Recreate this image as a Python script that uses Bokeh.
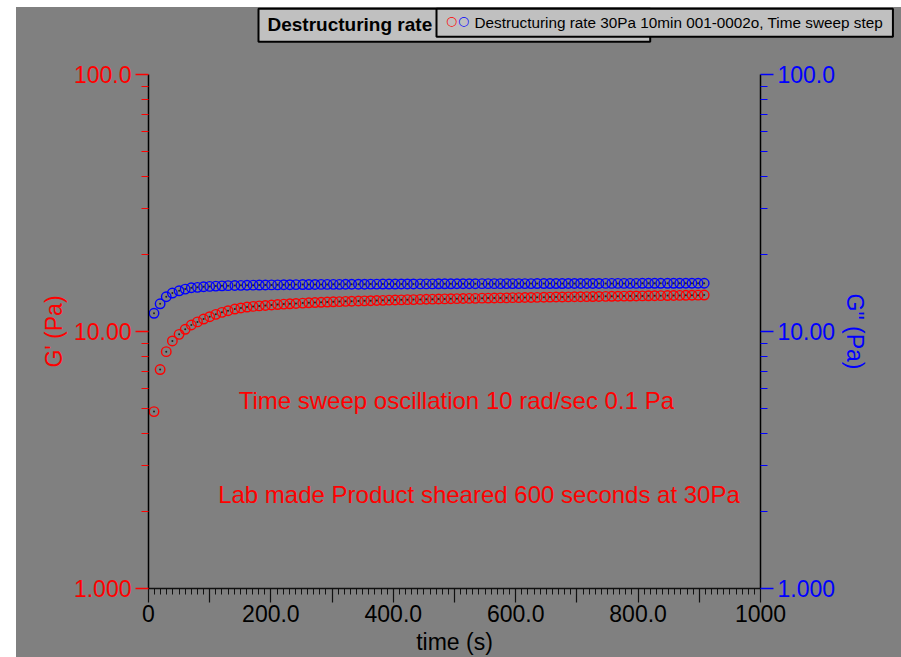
from bokeh.plotting import figure
from bokeh.models import LogAxis, Range1d, FixedTicker, Label
from bokeh.embed import file_html
from bokeh.resources import INLINE

# ---------------- data ----------------
time_s = [9, 19, 29, 39, 50, 60, 70, 80, 90, 100,
          110, 120, 130, 141, 151, 161, 171, 181, 191, 201,
          211, 221, 231, 241, 252, 262, 272, 282, 292, 302,
          312, 322, 332, 343, 353, 363, 373, 383, 393, 403,
          413, 423, 433, 444, 454, 464, 474, 484, 494, 504,
          514, 524, 534, 545, 555, 565, 575, 585, 595, 605,
          615, 625, 635, 646, 656, 666, 676, 686, 696, 706,
          716, 726, 736, 747, 757, 767, 777, 787, 797, 807,
          817, 827, 837, 848, 858, 868, 878, 888, 898, 908]

g_prime = [4.88, 7.11, 8.35, 9.19, 9.75, 10.2, 10.6, 10.9, 11.18, 11.42,
           11.66, 11.87, 12.05, 12.23, 12.35, 12.45, 12.52, 12.58, 12.63, 12.68,
           12.73, 12.78, 12.82, 12.86, 12.9, 12.93, 12.96, 12.99, 13.02, 13.05,
           13.07, 13.1, 13.12, 13.14, 13.16, 13.18, 13.2, 13.22, 13.24, 13.26,
           13.28, 13.3, 13.31, 13.33, 13.35, 13.36, 13.38, 13.39, 13.41, 13.42,
           13.44, 13.45, 13.46, 13.48, 13.49, 13.5, 13.51, 13.52, 13.54, 13.55,
           13.56, 13.57, 13.58, 13.6, 13.61, 13.62, 13.63, 13.64, 13.65, 13.66,
           13.67, 13.68, 13.69, 13.7, 13.71, 13.72, 13.73, 13.74, 13.75, 13.76,
           13.77, 13.78, 13.79, 13.8, 13.81, 13.82, 13.83, 13.84, 13.85, 13.86]

g_double = [11.77, 12.82, 13.65, 14.11, 14.4, 14.62, 14.8, 14.85, 14.93, 14.98,
            15.02, 15.05, 15.08, 15.1, 15.12, 15.14, 15.15, 15.16, 15.17, 15.18,
            15.19, 15.2, 15.21, 15.22, 15.23, 15.23, 15.24, 15.25, 15.25, 15.26,
            15.26, 15.27, 15.27, 15.28, 15.28, 15.29, 15.29, 15.3, 15.3, 15.3,
            15.31, 15.31, 15.31, 15.32, 15.32, 15.32, 15.33, 15.33, 15.33, 15.34,
            15.34, 15.34, 15.34, 15.35, 15.35, 15.35, 15.35, 15.36, 15.36, 15.36,
            15.36, 15.36, 15.37, 15.37, 15.37, 15.37, 15.37, 15.38, 15.38, 15.38,
            15.38, 15.38, 15.38, 15.39, 15.39, 15.39, 15.39, 15.39, 15.39, 15.4,
            15.4, 15.4, 15.4, 15.4, 15.4, 15.4, 15.41, 15.41, 15.41, 15.41]

x_ticks = [0, 100, 200, 300, 400, 500, 600, 700, 800, 900, 1000]
x_tick_labels = ["0", "", "200.0", "", "400.0", "", "600.0", "", "800.0", "", "1000"]
x_minor = list(range(0, 1001, 10))
y_ticks = [1, 10, 100]
y_tick_labels = ["1.000", "10.00", "100.0"]
y_minor = [2, 3, 4, 5, 6, 7, 8, 9, 20, 30, 40, 50, 60, 70, 80, 90]

legend_title = "Destructuring rate"
legend_item = "Destructuring rate 30Pa 10min 001-0002o, Time sweep step"
note1 = "Time sweep oscillation 10 rad/sec 0.1 Pa"
note2 = "Lab made Product sheared 600 seconds at 30Pa"

FONT = "Liberation Sans"
BG = "#808080"

# ---------------- figure ----------------
W, H = 885, 650
OX, OY = 16, 7                     # page offset of the figure
ML, MR, MT, MB = 132, 141, 67, 68
p = figure(width=W, height=H, x_range=Range1d(0, 1000), y_range=Range1d(1, 100),
           y_axis_type="log", output_backend="svg", toolbar_location=None,
           min_border_left=ML, min_border_right=MR, min_border_top=MT, min_border_bottom=MB,
           background_fill_color=BG, border_fill_color=BG, outline_line_color=None,
           margin=(OY, 0, 0, OX), styles={"background-color": BG})
p.grid.visible = False

FL, FT = OX + ML, OY + MT                      # frame left/top in page pixels
FW, FH = W - ML - MR, H - MT - MB              # frame size


def px_x(px):  # page pixel x -> data x (for placing the legend boxes)
    return (px - FL) / FW * 1000.0


def px_y(py):  # page pixel y -> data y on the log axis
    return 10 ** ((FT + FH - py) / FH * 2.0)


def style_y(ax, col, label):
    ax.ticker = FixedTicker(ticks=y_ticks, minor_ticks=y_minor)
    ax.major_label_overrides = {t: s for t, s in zip(y_ticks, y_tick_labels)}
    ax.axis_line_color = "black"
    ax.axis_line_width = 1.5
    ax.major_tick_line_color = col
    ax.major_tick_line_width = 1.5
    ax.major_tick_in = 0
    ax.major_tick_out = 13
    ax.minor_tick_line_color = col
    ax.minor_tick_line_width = 1.2
    ax.minor_tick_in = 0
    ax.minor_tick_out = 7
    ax.major_label_text_color = col
    ax.major_label_text_font = FONT
    ax.major_label_text_font_size = "23px"
    ax.major_label_standoff = 4
    ax.axis_label = label
    ax.axis_label_text_color = col
    ax.axis_label_text_font = FONT
    ax.axis_label_text_font_size = "23px"
    ax.axis_label_text_font_style = "normal"
    ax.axis_label_standoff = 4


style_y(p.yaxis[0], "red", "G' (Pa)")
right = LogAxis()
style_y(right, "blue", 'G" (Pa)')
p.add_layout(right, "right")

xa = p.xaxis[0]
xa.ticker = FixedTicker(ticks=x_ticks, minor_ticks=x_minor)
xa.major_label_overrides = {t: s for t, s in zip(x_ticks, x_tick_labels)}
xa.axis_line_color = "#111111"
xa.axis_line_width = 1.5
xa.major_tick_line_color = "#111111"
xa.major_tick_line_width = 1.2
xa.major_tick_in = 0
xa.major_tick_out = 14
xa.minor_tick_line_color = "#111111"
xa.minor_tick_in = 0
xa.minor_tick_out = 6
xa.major_label_text_color = "black"
xa.major_label_text_font = FONT
xa.major_label_text_font_size = "23px"
xa.major_label_standoff = 2
xa.axis_label = "time (s)"
xa.axis_label_text_color = "black"
xa.axis_label_text_font = FONT
xa.axis_label_text_font_size = "23px"
xa.axis_label_text_font_style = "normal"
xa.axis_label_standoff = 4

# ---------------- data marks ----------------
p.scatter(time_s, g_prime, marker="circle", size=9.5, fill_color=None,
          line_color="red", line_width=1.4)
p.scatter(time_s, g_prime, marker="circle", size=2, fill_color="#222222", line_color=None)
p.scatter(time_s, g_double, marker="circle", size=9.5, fill_color=None,
          line_color="blue", line_width=1.4)
p.scatter(time_s, g_double, marker="circle", size=2, fill_color="#222222", line_color=None)

# ---------------- notes ----------------
p.add_layout(Label(x=503, y=5.37, text=note1, text_align="center", text_baseline="middle",
                   text_color="red", text_font=FONT, text_font_size="24px"))
p.add_layout(Label(x=540, y=2.317, text=note2, text_align="center", text_baseline="middle",
                   text_color="red", text_font=FONT, text_font_size="24px"))

# ---------------- legend, drawn from side panels so it is not clipped ----------------
p.add_layout(Label(x=px_x(258), y=px_y(8), text=legend_title, text_align="left",
                   text_baseline="top", text_font=FONT, text_font_size="19px",
                   text_font_style="bold", text_color="black",
                   background_fill_color="#c0c0c0", border_line_color="black",
                   border_line_width=2,
                   padding=dict(left=9, right=218, top=5, bottom=7)), "above")
p.add_layout(Label(x=px_x(436), y=px_y(8), text=legend_item, text_align="left",
                   text_baseline="top", text_font=FONT, text_font_size="15.3px",
                   text_color="black",
                   background_fill_color="#c0c0c0", border_line_color="black",
                   border_line_width=2,
                   padding=dict(left=38, right=10, top=5, bottom=6)), "above")
p.add_layout(Label(x=px_x(451), y=px_y(19.5), text="○", text_align="center",
                   text_baseline="middle", text_font="DejaVu Sans", text_font_size="12.5px",
                   text_color="red"), "left")
p.add_layout(Label(x=px_x(463), y=px_y(19.5), text="○", text_align="center",
                   text_baseline="middle", text_font="DejaVu Sans", text_font_size="12.5px",
                   text_color="blue"), "right")

open("out.html", "w").write(file_html(p, INLINE))
